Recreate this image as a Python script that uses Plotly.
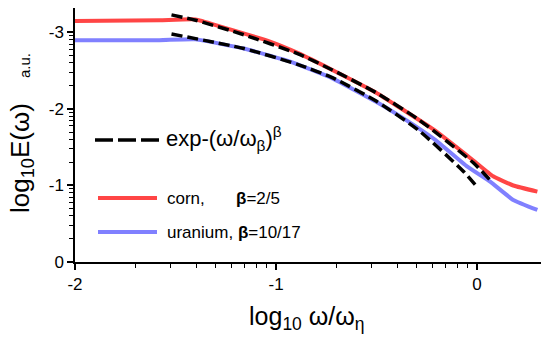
import numpy as np
import plotly.graph_objects as go

# ---- data (x = log10 w/w_eta, y = -log10 E) ----
corn_x = [-2.0, -1.58, -1.40, -1.28, -1.04, -0.89, -0.72, -0.50, -0.38, -0.21, -0.02, 0.08, 0.18, 0.30]
corn_y = [3.15, 3.16, 3.17, 3.08, 2.89, 2.73, 2.51, 2.21, 2.01, 1.72, 1.33, 1.12, 1.00, 0.92]

uran_x = [-2.0, -1.58, -1.40, -1.16, -0.93, -0.72, -0.50, -0.38, -0.21, -0.05, 0.065, 0.18, 0.30]
uran_y = [2.90, 2.90, 2.91, 2.79, 2.62, 2.40, 2.09, 1.90, 1.60, 1.25, 1.05, 0.81, 0.68]

fit_corn_x = [-1.52, -1.40, -1.16, -0.89, -0.72, -0.50, -0.29, -0.02, 0.065]
fit_corn_y = [3.23, 3.16, 2.97, 2.72, 2.51, 2.21, 1.86, 1.30, 1.07]

fit_uran_x = [-1.52, -1.16, -0.89, -0.72, -0.50, -0.29, -0.07, 0.0]
fit_uran_y = [2.98, 2.79, 2.58, 2.41, 2.10, 1.72, 1.19, 0.98]

x_ticks = [-2, -1, 0]
x_labels = ["-2", "-1", "0"]
y_ticks = [0, 1, 2, 3]
y_labels = ["0", "-1", "-2", "-3"]

RED = "#FF4545"
BLUE = "#8080FF"
FONT = "Liberation Sans, Arial, sans-serif"

# plot area in pixels
L, T, W, H = 75, 8, 466, 254


def px(xp):
    return (xp - L) / W


def py(yp):
    return (T + H - yp) / H


x_minor = [d + np.log10(k) for d in (-2, -1) for k in range(2, 10)]
y_minor = [d + np.log10(k) for d in (0, 1, 2) for k in range(2, 10)]

fig = go.Figure()
fig.add_trace(go.Scatter(x=corn_x, y=corn_y, mode="lines",
                         line=dict(color=RED, width=4, shape="spline", smoothing=0.4)))
fig.add_trace(go.Scatter(x=uran_x, y=uran_y, mode="lines",
                         line=dict(color=BLUE, width=4, shape="spline", smoothing=0.4)))
fig.add_trace(go.Scatter(x=fit_corn_x, y=fit_corn_y, mode="lines",
                         line=dict(color="black", width=3.5, dash="11px,5px", shape="spline", smoothing=0.6)))
fig.add_trace(go.Scatter(x=fit_uran_x, y=fit_uran_y, mode="lines",
                         line=dict(color="black", width=3.5, dash="11px,5px", shape="spline", smoothing=0.6)))

axis_common = dict(showgrid=False, zeroline=False, showline=True, linecolor="black", linewidth=1.5,
                   ticks="outside", ticklen=6, tickwidth=1.5, tickcolor="black",
                   tickfont=dict(family=FONT, size=17, color="black"), tickmode="array")

fig.update_xaxes(range=[-2, 0.318], tickvals=x_ticks, ticktext=x_labels,
                 minor=dict(tickvals=x_minor, ticks="outside", ticklen=4, tickwidth=1.2, tickcolor="black"),
                 **axis_common)
fig.update_yaxes(range=[0, 3.32], tickvals=y_ticks, ticktext=y_labels,
                 minor=dict(tickvals=y_minor, ticks="outside", ticklen=4, tickwidth=1.2, tickcolor="black"),
                 **axis_common)

ann = []
ann.append(dict(xref="paper", yref="paper", x=px(307), y=py(318), xanchor="center", yanchor="middle",
                text="log<sub>10</sub> ω/ω<sub>η</sub>", showarrow=False,
                font=dict(family=FONT, size=25, color="black")))
ann.append(dict(xref="paper", yref="paper", x=px(21), y=py(158), xanchor="center", yanchor="middle",
                text="log<sub>10</sub>E(ω)", textangle=-90, showarrow=False,
                font=dict(family=FONT, size=26, color="black")))
ann.append(dict(xref="paper", yref="paper", x=px(24), y=py(66), xanchor="center", yanchor="middle",
                text="a.u.", textangle=-90, showarrow=False,
                font=dict(family=FONT, size=15, color="black")))
# legend texts
ann.append(dict(xref="paper", yref="paper", x=px(164), y=py(138),
                xanchor="left", yanchor="middle",
                text="exp-(ω/ω<sub>β</sub>)<sup>β</sup>", showarrow=False,
                font=dict(family=FONT, size=22, color="black")))
ann.append(dict(xref="paper", yref="paper", x=px(165), y=py(198),
                xanchor="left", yanchor="middle", text="corn,", showarrow=False,
                font=dict(family=FONT, size=17, color="black")))
ann.append(dict(xref="paper", yref="paper", x=px(234), y=py(198),
                xanchor="left", yanchor="middle", text="<b>β</b>=2/5", showarrow=False,
                font=dict(family=FONT, size=17, color="black")))
ann.append(dict(xref="paper", yref="paper", x=px(165), y=py(232),
                xanchor="left", yanchor="middle", text="uranium, <b>β</b>=10/17", showarrow=False,
                font=dict(family=FONT, size=17, color="black")))

shapes = [
    dict(type="line", xref="paper", yref="paper", x0=px(95), x1=px(159),
         y0=py(140), y1=py(140), line=dict(color="black", width=3.5, dash="18px,5px")),
    dict(type="line", xref="paper", yref="paper", x0=px(98), x1=px(157),
         y0=py(198), y1=py(198), line=dict(color=RED, width=4)),
    dict(type="line", xref="paper", yref="paper", x0=px(98), x1=px(157),
         y0=py(232), y1=py(232), line=dict(color=BLUE, width=4)),
]

fig.update_layout(width=541, height=337, margin=dict(l=L, r=0, t=T, b=337 - T - H),
                  paper_bgcolor="white", plot_bgcolor="white", showlegend=False,
                  annotations=ann, shapes=shapes)

fig.write_html("out.html")
